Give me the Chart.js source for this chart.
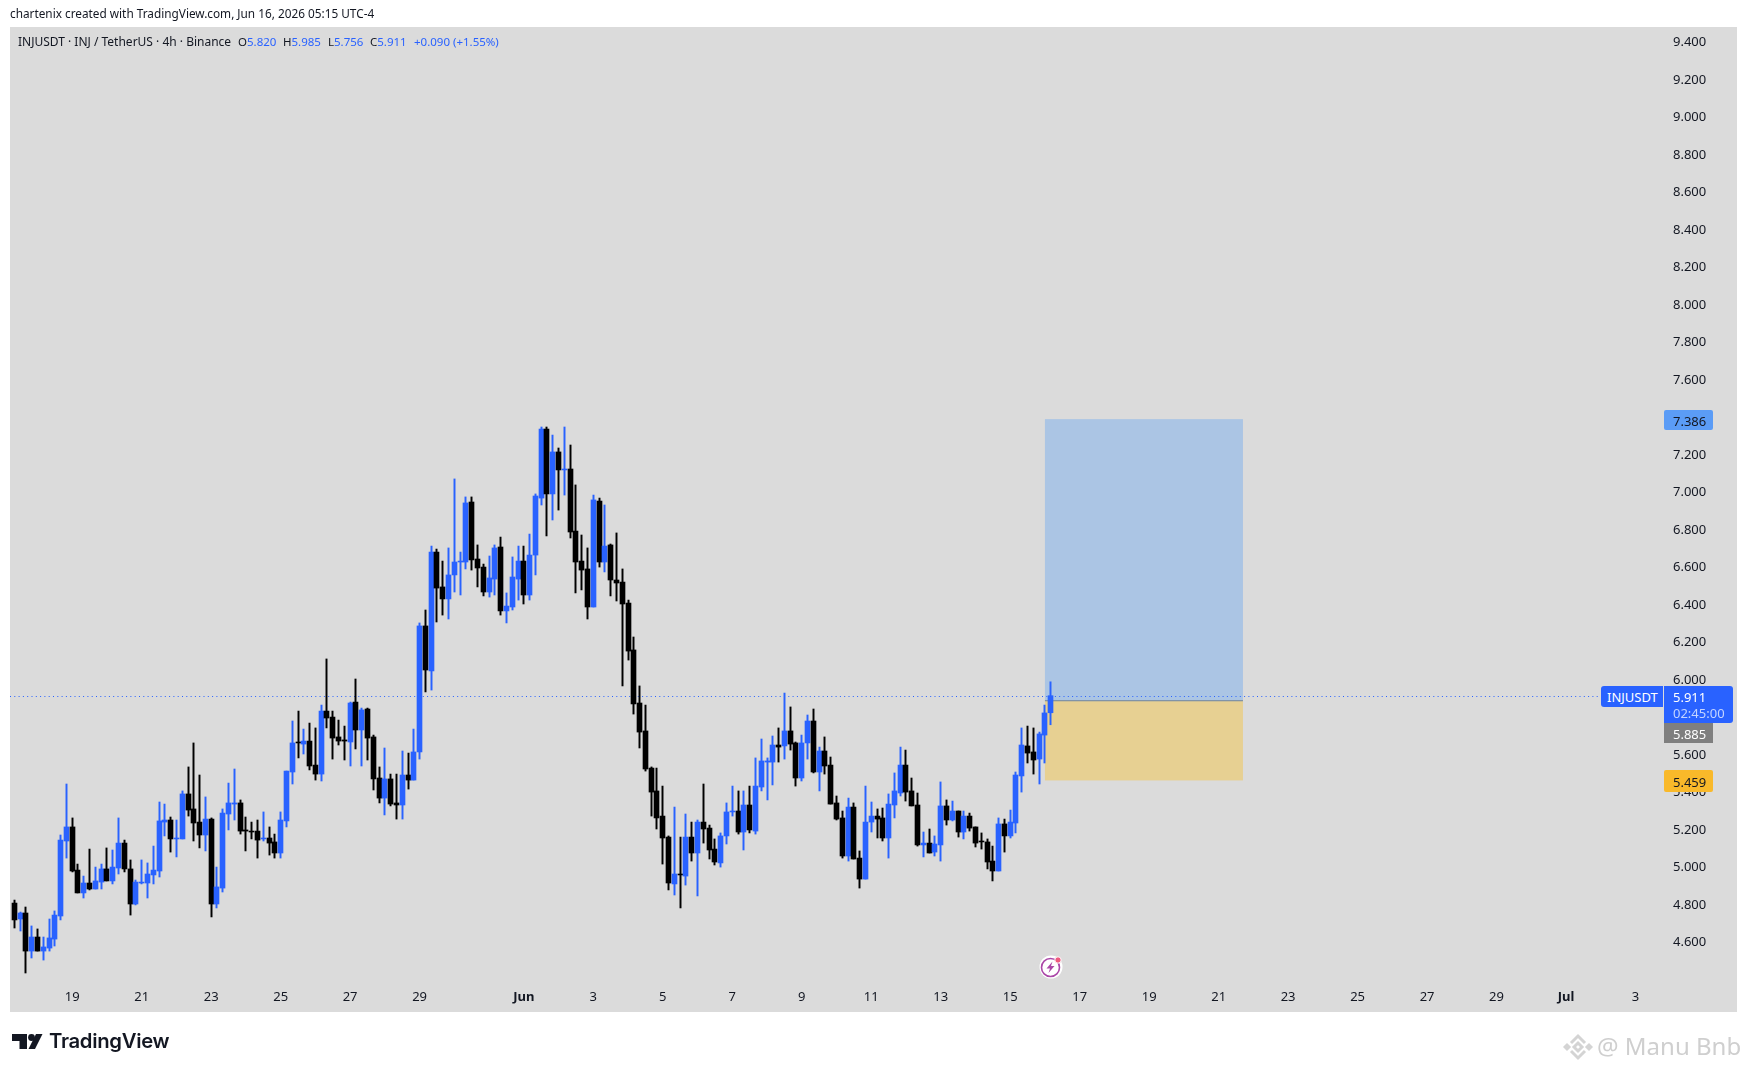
<!DOCTYPE html>
<html>
<head>
<meta charset="utf-8">
<title>INJUSDT</title>
<script src="https://cdn.jsdelivr.net/npm/chart.js@4/dist/chart.umd.min.js"></script>
<style>
    html, body { margin:0; padding:0; background:#fff; width:1747px; height:1072px; overflow:hidden; }
    body { font-family:"Noto Sans", sans-serif; color:#131722; position:relative; }
    #plot { position:absolute; left:10px; top:27px; width:1727px; height:985px; background:#dbdbdb; }
    canvas { position:absolute; left:0; top:0; }
    .t { position:absolute; white-space:nowrap; line-height:1; }
    .blue { color:#2962ff; }
    .badge { position:absolute; box-sizing:border-box; text-align:left; font-size:13px; white-space:nowrap; }
</style>
</head>
<body>
<div id="plot"></div>
<canvas id="chart" width="1747" height="1072"></canvas>

<div class="t" style="left:10px;top:8px;font-size:11.8px;">chartenix created with TradingView.com, Jun 16, 2026 05:15 UTC-4</div>

<div class="t" style="left:18px;top:36px;font-size:12px;">INJUSDT · INJ / TetherUS · 4h · Binance</div>
<div class="t" style="left:238px;top:36px;font-size:11.5px;">O<span class="blue">5.820</span></div>
<div class="t" style="left:283px;top:36px;font-size:11.5px;">H<span class="blue">5.985</span></div>
<div class="t" style="left:328px;top:36px;font-size:11.5px;">L<span class="blue">5.756</span></div>
<div class="t" style="left:370px;top:36px;font-size:11.5px;">C<span class="blue">5.911</span></div>
<div class="t blue" style="left:414px;top:36px;font-size:11.5px;">+0.090 (+1.55%)</div>

<div class="badge" style="left:1664px;top:410px;width:49px;height:20px;background:#5b9cf6;border-radius:2px;padding:2px 0 0 9px;color:#131722;">7.386</div>
<div class="badge" style="left:1601px;top:686px;width:62px;height:21px;background:#2962ff;border-radius:3px 0 0 3px;padding:2px 0 0 6px;color:#fff;">INJUSDT</div>
<div class="badge" style="left:1664px;top:686px;width:69px;height:37px;background:#2962ff;border-radius:0 3px 3px 0;color:#fff;">
    <div class="t" style="left:9px;top:5px;">5.911</div>
    <div class="t" style="left:9px;top:21px;color:#c4d4ff;">02:45:00</div>
</div>
<div class="badge" style="left:1664px;top:723px;width:49px;height:20px;background:#7f7f7f;padding:2px 0 0 9px;color:#fff;">5.885</div>
<div class="badge" style="left:1664px;top:770px;width:49px;height:22px;background:#f9b92a;border-radius:2px;padding:3px 0 0 9px;color:#131722;">5.459</div>

<!-- lightning marker under the last bar -->
<svg style="position:absolute;left:1039px;top:955px;" width="24" height="24" viewBox="0 0 24 24">
    <circle cx="12" cy="12" r="11.5" fill="#fff"/>
    <circle cx="11.5" cy="12.5" r="9" fill="none" stroke="#ab47a8" stroke-width="1.6"/>
    <path d="M13.5 6.5 L7.5 13.5 H11 L9.5 18 L15.5 11 H12 Z" fill="#ab47a8"/>
    <circle cx="19" cy="5" r="3.2" fill="#f05a7e" stroke="#fff" stroke-width="1"/>
</svg>

<!-- TradingView footer logo -->
<svg style="position:absolute;left:12px;top:1034px;" width="31" height="16" viewBox="0 0 31 16">
    <path d="M0 0 H15 V15 H7.5 V7 H0 Z" fill="#131722"/>
    <circle cx="19.5" cy="3.5" r="3.4" fill="#131722"/>
    <path d="M24 0 H30.5 L23 15 H16.5 Z" fill="#131722"/>
</svg>
<div class="t" style="left:49px;top:1031px;font-family:Inter, sans-serif;font-size:20.3px;font-weight:600;letter-spacing:-0.3px;color:#131722;">TradingView</div>

<!-- watermark -->
<svg style="position:absolute;left:1563px;top:1032px;" width="30" height="30" viewBox="0 0 30 30">
    <g fill="none" stroke="#d4d4d4" stroke-width="3">
        <path d="M8 11 L15 4 L22 11"/>
        <path d="M8 19 L15 26 L22 19"/>
        <path d="M15 11 L19 15 L15 19 L11 15 Z"/>
        <path d="M2 15 L4 13 L6 15 L4 17 Z"/>
        <path d="M24 15 L26 13 L28 15 L26 17 Z"/>
    </g>
</svg>
<div class="t" style="left:1597px;top:1034px;font-size:24px;color:#cfcfcf;">@ Manu Bnb</div>

<script>
// 4h candles
const opens = [
    4.805,4.720,4.752,4.549,4.624,4.549,4.565,4.613,4.736,5.136,5.211,4.981,4.859,4.912,4.880,4.917,4.987,4.923,4.992,5.125,
    4.987,4.800,4.912,4.912,4.955,4.976,5.237,5.248,5.147,5.147,5.387,5.307,5.237,5.168,5.253,4.800,4.885,5.280,5.333,5.339,
    5.195,5.189,5.189,5.147,5.152,5.131,5.072,5.243,5.504,5.664,5.653,5.669,5.541,5.493,5.829,5.797,5.691,5.675,5.664,5.877,
    5.728,5.840,5.691,5.472,5.365,5.467,5.339,5.328,5.488,5.461,5.611,6.283,6.043,6.677,6.491,6.427,6.555,6.624,6.624,6.944,
    6.640,6.597,6.464,6.533,6.704,6.363,6.384,6.533,6.629,6.448,6.661,6.965,7.333,6.987,7.211,7.115,7.120,6.789,6.629,6.587,
    6.384,6.949,6.624,6.715,6.528,6.517,6.405,6.155,5.872,5.723,5.525,5.403,5.269,5.157,4.907,4.960,4.949,5.157,5.072,5.237,
    5.205,5.093,5.019,5.163,5.291,5.296,5.184,5.328,5.189,5.424,5.557,5.557,5.648,5.643,5.723,5.659,5.472,5.659,5.776,5.504,
    5.616,5.541,5.339,5.259,5.056,5.317,5.045,4.933,5.237,5.269,5.259,5.152,5.328,5.392,5.541,5.403,5.328,5.115,5.125,5.077,
    5.115,5.323,5.248,5.296,5.184,5.269,5.211,5.136,5.131,5.029,4.976,5.227,5.163,5.232,5.483,5.643,5.611,5.573,5.701,5.820
];
const highs = [
    4.821,4.757,4.784,4.683,4.667,4.624,4.720,4.763,5.168,5.440,5.259,5.013,4.949,5.093,4.997,5.013,5.099,5.088,5.259,5.141,
    5.035,4.928,5.035,5.019,5.109,5.344,5.333,5.264,5.248,5.403,5.531,5.659,5.488,5.371,5.259,4.997,5.307,5.445,5.520,5.355,
    5.264,5.237,5.248,5.291,5.211,5.173,5.291,5.509,5.776,5.829,5.733,5.765,5.739,5.861,6.107,5.829,5.781,5.749,5.877,6.000,
    5.845,5.845,5.701,5.531,5.632,5.493,5.493,5.616,5.605,5.733,6.299,6.368,6.709,6.693,6.629,6.699,7.067,6.677,6.971,6.971,
    6.715,6.613,6.656,6.715,6.757,6.459,6.651,6.709,6.709,6.773,6.987,7.344,7.344,7.301,7.232,7.344,7.248,7.035,6.768,6.699,
    6.981,6.965,6.928,6.720,6.779,6.587,6.421,6.224,5.963,5.861,5.531,5.525,5.429,5.163,5.317,5.157,5.280,5.237,5.248,5.440,
    5.221,5.147,5.179,5.339,5.429,5.403,5.403,5.429,5.579,5.680,5.579,5.696,5.739,5.925,5.851,5.664,5.701,5.808,5.840,5.637,
    5.691,5.584,5.376,5.296,5.365,5.339,5.083,5.429,5.344,5.307,5.312,5.387,5.499,5.637,5.621,5.472,5.392,5.184,5.200,5.163,
    5.451,5.355,5.349,5.296,5.296,5.285,5.211,5.179,5.147,5.109,5.259,5.253,5.301,5.504,5.739,5.749,5.739,5.717,5.861,5.985
];
const lows = [
    4.672,4.656,4.432,4.512,4.549,4.501,4.549,4.576,4.715,5.045,4.971,4.859,4.832,4.875,4.880,4.880,4.923,4.907,4.960,4.971,
    4.741,4.795,4.907,4.832,4.907,4.944,5.163,5.077,5.051,5.147,5.269,5.136,5.099,5.083,4.731,4.779,4.864,5.195,5.248,5.173,
    5.083,5.147,5.045,5.136,5.061,5.045,5.045,5.211,5.440,5.579,5.600,5.515,5.461,5.456,5.739,5.573,5.648,5.568,5.536,5.627,
    5.536,5.568,5.408,5.339,5.275,5.323,5.253,5.253,5.413,5.461,5.573,5.931,5.941,6.304,6.341,6.320,6.464,6.448,6.587,6.581,
    6.491,6.443,6.437,6.448,6.341,6.299,6.368,6.421,6.400,6.421,6.555,6.928,6.763,6.848,6.901,6.981,6.752,6.459,6.475,6.320,
    6.384,6.597,6.571,6.443,6.416,5.963,6.101,5.813,5.632,5.509,5.269,5.200,5.013,4.875,4.848,4.779,4.901,5.029,4.843,5.125,
    5.040,5.008,4.997,5.120,5.269,5.173,5.088,5.179,5.173,5.403,5.355,5.435,5.557,5.573,5.621,5.429,5.456,5.573,5.499,5.403,
    5.493,5.333,5.248,5.045,5.029,5.040,4.885,4.933,5.184,5.152,5.136,5.045,5.259,5.376,5.349,5.323,5.109,5.051,5.072,5.056,
    5.029,5.221,5.243,5.157,5.147,5.189,5.104,5.093,4.987,4.923,4.976,5.077,5.152,5.179,5.397,5.552,5.493,5.440,5.552,5.756
];
const closes = [
    4.715,4.752,4.549,4.624,4.549,4.571,4.619,4.741,5.141,5.211,4.976,4.859,4.912,4.880,4.923,4.987,4.923,4.997,5.125,4.987,
    4.800,4.917,4.917,4.960,4.981,5.243,5.248,5.147,5.152,5.387,5.301,5.232,5.168,5.253,4.800,4.891,5.285,5.339,5.339,5.189,
    5.189,5.184,5.141,5.152,5.125,5.072,5.248,5.509,5.659,5.659,5.669,5.536,5.493,5.829,5.792,5.685,5.669,5.669,5.872,5.728,
    5.835,5.685,5.467,5.365,5.467,5.333,5.328,5.488,5.461,5.611,6.283,6.048,6.677,6.485,6.427,6.555,6.624,6.629,6.939,6.635,
    6.592,6.464,6.539,6.699,6.363,6.389,6.544,6.629,6.448,6.661,6.976,7.333,6.987,7.211,7.115,7.120,6.784,6.624,6.581,6.384,
    6.955,6.624,6.709,6.528,6.512,6.400,6.149,5.867,5.717,5.520,5.397,5.259,5.152,4.912,4.960,4.955,5.157,5.072,5.237,5.200,
    5.088,5.024,5.163,5.291,5.296,5.184,5.328,5.195,5.429,5.563,5.563,5.648,5.637,5.723,5.653,5.472,5.659,5.776,5.504,5.616,
    5.536,5.333,5.253,5.056,5.317,5.040,4.933,5.237,5.269,5.253,5.152,5.333,5.403,5.541,5.397,5.323,5.115,5.125,5.072,5.120,
    5.323,5.248,5.296,5.184,5.269,5.205,5.125,5.131,5.024,4.976,5.227,5.163,5.237,5.488,5.648,5.605,5.568,5.707,5.819,5.911
];

// axis labels
const priceTicks = [9.4,9.2,9.0,8.8,8.6,8.4,8.2,8.0,7.8,7.6,7.4,7.2,7.0,6.8,6.6,6.4,6.2,6.0,5.8,5.6,5.4,5.2,5.0,4.8,4.6];
const dayBars = [11,23,35,47,59,71,89,101,113,125,137,149,161,173,185,197,209,221,233,245,257,269,281];
const dayLabels = ["19","21","23","25","27","29","Jun","3","5","7","9","11","13","15","17","19","21","23","25","27","29","Jul","3"];
const monthLabels = ["Jun","Jul"];

// long position drawing and last price
const targetPrice = 7.386;
const entryPrice = 5.885;
const stopPrice = 5.459;
const positionStartBar = 179;
const positionEndBar = 213.2;
const lastPrice = 5.911;

const BLUE = "#2962ff";
const BLACK = "#000000";
const barIndex = opens.map((_, i) => i + 1);
const candleColors = opens.map((o, i) => closes[i] >= o ? BLUE : BLACK);

// long/short box and dotted last price line, under the candles
const overlayPlugin = {
    id: "overlay",
    beforeDatasetsDraw(chart) {
        const { ctx, scales: { x, y } } = chart;
        const x1 = x.getPixelForValue(positionStartBar);
        const x2 = x.getPixelForValue(positionEndBar);
        const top = y.getPixelForValue(targetPrice);
        const mid = y.getPixelForValue(entryPrice);
        const bot = y.getPixelForValue(stopPrice);
        ctx.save();
        ctx.fillStyle = "#abc5e4";
        ctx.fillRect(x1, top, x2 - x1, mid - top);
        ctx.fillStyle = "#e7d092";
        ctx.fillRect(x1, mid, x2 - x1, bot - mid);
        ctx.fillStyle = "#7a8ea6";
        ctx.fillRect(x1, mid - 0.5, x2 - x1, 1.2);

        const ly = Math.round(y.getPixelForValue(lastPrice)) + 0.5;
        ctx.strokeStyle = BLUE;
        ctx.lineWidth = 1;
        ctx.setLineDash([1, 3.3]);
        ctx.beginPath();
        ctx.moveTo(10, ly);
        ctx.lineTo(1601, ly);
        ctx.stroke();
        ctx.restore();
    }
};

// keep candles on whole pixels like the original
const snapPlugin = {
    id: "snap",
    afterDatasetsUpdate(chart) {
        chart.data.datasets.forEach((_, i) => {
            chart.getDatasetMeta(i).data.forEach(el => { el.x = Math.floor(el.x) + 0.5; });
        });
    }
};

new Chart(document.getElementById("chart"), {
    type: "bar",
    data: {
        datasets: [
            {
                label: "body",
                data: barIndex.map((b, i) => ({ x: b, y: [opens[i], closes[i]] })),
                backgroundColor: candleColors,
                barThickness: 5,
                grouped: false,
                borderWidth: 0,
                borderSkipped: false
            },
            {
                label: "wick",
                data: barIndex.map((b, i) => ({ x: b, y: [lows[i], highs[i]] })),
                backgroundColor: candleColors,
                barThickness: 1.3,
                grouped: false,
                borderWidth: 0,
                borderSkipped: false
            }
        ]
    },
    options: {
        responsive: false,
        animation: false,
        devicePixelRatio: 1,
        layout: { padding: { left: 10, top: 27, right: 10, bottom: 60 } },
        plugins: { legend: { display: false }, tooltip: { enabled: false } },
        scales: {
            x: {
                type: "linear",
                offset: false,
                min: 0.257,
                max: 285.23,
                grid: { display: false, drawTicks: false },
                border: { display: false },
                afterBuildTicks: s => { s.ticks = dayBars.map(v => ({ value: v })); },
                afterFit: s => { s.height = 32; },
                ticks: {
                    autoSkip: false,
                    maxRotation: 0,
                    padding: 9,
                    color: "#131722",
                    font: ctx => ({
                        family: '"Noto Sans", sans-serif',
                        size: 13,
                        weight: monthLabels.includes(dayLabels[dayBars.indexOf(ctx.tick ? ctx.tick.value : -1)]) ? "bold" : "normal"
                    }),
                    callback: v => dayLabels[dayBars.indexOf(v)]
                }
            },
            y: {
                type: "linear",
                position: "right",
                min: 4.3947,
                max: 9.4773,
                grid: { display: false, drawTicks: false },
                border: { display: false },
                afterBuildTicks: s => { s.ticks = priceTicks.map(v => ({ value: v })); },
                afterFit: s => { s.width = 77; },
                ticks: {
                    autoSkip: false,
                    padding: 13,
                    labelOffset: 1,
                    color: "#131722",
                    font: { family: '"Noto Sans", sans-serif', size: 13 },
                    callback: v => v.toFixed(3)
                }
            }
        }
    },
    plugins: [overlayPlugin, snapPlugin]
});
</script>
</body>
</html>
